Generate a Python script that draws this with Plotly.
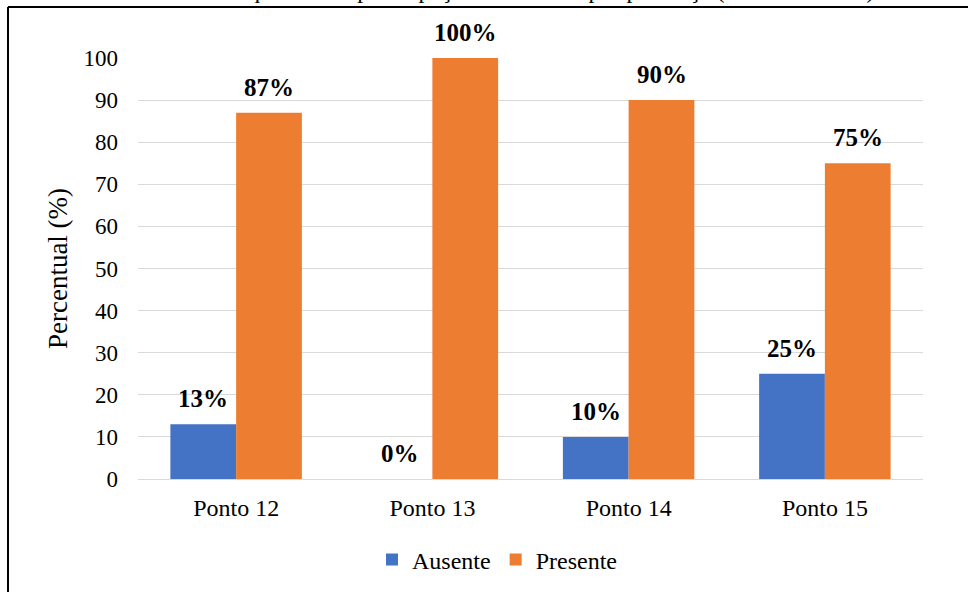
import plotly.graph_objects as go

# Percentual de ausência/presença por ponto
pontos = ["Ponto 12", "Ponto 13", "Ponto 14", "Ponto 15"]
ausente = [13, 0, 10, 25]
presente = [87, 100, 90, 75]
y_ticks = [0, 10, 20, 30, 40, 50, 60, 70, 80, 90, 100]

serif = "Times New Roman, Liberation Serif, serif"
label_font = dict(family=serif, size=25, color="black")

L, R, T, B = 138, 45, 58, 113
W, H = 968, 592
pw, ph = W - L - R, H - T - B
BARGAP = 0.33
# half of one bar's width in pixels (two bars per category)
half_bar = pw / len(pontos) * (1 - BARGAP) / 4

fig = go.Figure()
fig.add_trace(go.Bar(name="Ausente", x=pontos, y=ausente,
                     marker=dict(color="#4472C4", line=dict(width=0))))
fig.add_trace(go.Bar(name="Presente", x=pontos, y=presente,
                     marker=dict(color="#ED7D31", line=dict(width=0))))

# value labels above each bar
annotations = []
for serie, shift in ((ausente, -half_bar), (presente, half_bar)):
    for p, v in zip(pontos, serie):
        annotations.append(dict(
            text=f"<b>{v}%</b>", x=p, y=v, xref="x", yref="y",
            xshift=shift, yshift=10, xanchor="center", yanchor="bottom",
            showarrow=False, font=label_font))


def px_x(p):
    return (p - L) / pw


def px_y(p):
    return (H - B - p) / ph


annotations.append(dict(
    text="Frequência de participação dos alunos por presença (Pontos 12 a 15)",
    xref="paper", yref="paper", x=px_x(545), y=px_y(5),
    xanchor="center", yanchor="bottom", showarrow=False,
    font=dict(family=serif, size=24, color="black")))

fig.update_layout(
    width=W, height=H,
    margin=dict(l=L, r=R, t=T, b=B, autoexpand=False),
    paper_bgcolor="white", plot_bgcolor="white",
    barmode="group", bargap=BARGAP, bargroupgap=0,
    font=dict(family=serif, size=23, color="black"),
    legend=dict(orientation="h", x=px_x(497), xanchor="center",
                y=px_y(560), yanchor="middle",
                font=dict(family=serif, size=24, color="black"),
                itemwidth=30, traceorder="normal"),
    xaxis=dict(showgrid=False, showline=False, ticks="", automargin=False,
               ticklabelstandoff=12,
               tickfont=dict(family=serif, size=24, color="black")),
    yaxis=dict(range=[0, 100], tickvals=y_ticks, showgrid=True,
               gridcolor="#d9d9d9", gridwidth=1, zeroline=True,
               zerolinecolor="#d9d9d9", zerolinewidth=1, automargin=False,
               showline=False, ticks="", ticklabelstandoff=19,
               tickfont=dict(family=serif, size=23, color="black"),
               title=dict(text="Percentual (%)",
                          font=dict(family=serif, size=27, color="black"),
                          standoff=8)),
    shapes=[
        dict(type="line", xref="paper", yref="paper",
             x0=px_x(8), x1=px_x(970), y0=px_y(7), y1=px_y(7),
             line=dict(color="black", width=2)),
        dict(type="line", xref="paper", yref="paper",
             x0=px_x(8), x1=px_x(8), y0=px_y(7), y1=px_y(600),
             line=dict(color="black", width=2)),
    ],
    annotations=annotations,
)

fig.write_html("out.html")
